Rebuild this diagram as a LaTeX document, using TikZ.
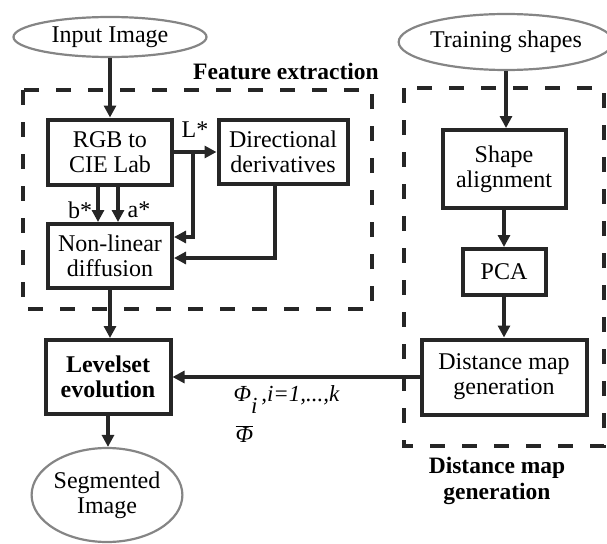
\documentclass[tikz,border=0pt]{standalone}
\usepackage{fontspec}
\setmainfont{Liberation Serif}
\usetikzlibrary{shapes.geometric,arrows.meta}
\definecolor{linec}{HTML}{262626}
\definecolor{ovalc}{HTML}{858585}
\begin{document}
\begin{tikzpicture}[x=1pt,y=-1pt,
 every node/.style={font=\fontsize{24}{25}\selectfont, text=black},
 box/.style={rectangle, draw=linec, line width=4pt, align=center, inner sep=0pt},
 oval/.style={ellipse, draw=ovalc, line width=2.2pt, align=center, inner sep=0pt},
 arr/.style={draw=linec, line width=3.5pt, -{Triangle[length=12pt,width=12pt]}},
 dbox/.style={draw=linec, line width=4pt, dash pattern=on 15pt off 17pt},
 lab/.style={font=\fontsize{23.5}{26}\selectfont\bfseries, align=center},
 mlab/.style={font=\fontsize{23}{23}\selectfont\itshape, anchor=west}]
\useasboundingbox (0,0) rectangle (607,543);

% dashed groups
\draw[dbox] (23,90) rectangle (372,309);
\draw[dbox] (404,88) rectangle (604,446);

% nodes
\node[oval, minimum width=193pt, minimum height=40pt] (input) at (110,37) {Input Image};
\node[box, minimum width=124pt, minimum height=65pt] (rgb) at (110,152) {RGB to\\CIE Lab};
\node[box, minimum width=129pt, minimum height=64pt] (dir) at (283,152) {Directional\\derivatives};
\node[box, minimum width=124pt, minimum height=64pt] (nl) at (110,256) {Non-linear\\diffusion};
\node[box, minimum width=125pt, minimum height=74pt, font=\fontsize{24}{25}\selectfont\bfseries] (lvl) at (108,377) {Levelset\\evolution};
\node[oval, minimum width=131pt, minimum height=94pt] (seg) at (107,495) {Segmented\\Image};

\node[oval, minimum width=191pt, minimum height=56pt] (train) at (506,42) {Training shapes};
\node[box, minimum width=123pt, minimum height=78pt] (shape) at (504,169) {Shape\\alignment};
\node[box, minimum width=83pt, minimum height=46pt] (pca) at (504,272) {PCA};
\node[box, minimum width=165pt, minimum height=75pt] (dist) at (504,377) {Distance map\\generation};

% labels
\node[lab] (fe) at (286,71) {Feature extraction};
\node[lab] (dm) at (497,481) {Distance map\\generation};
\node (lstar) at (195,130) {L*};
\node (bstar) at (80,210) {b*};
\node (astar) at (139,210) {a*};
\node[mlab] (phi) at (230,400) {Φ\raisebox{-12pt}{i}\,,i=1,...,k};
\node[mlab] (phibar) at (232,434) {$\overline{\hbox{\itshape Φ}}$};

% connectors
\draw[arr] (input.south) -- (input.south |- rgb.north);
\draw[arr] ([xshift=-12pt]rgb.south) -- ([xshift=-12pt]nl.north);
\draw[arr] ([xshift=8pt]rgb.south) -- ([xshift=8pt]nl.north);
\draw[arr] (rgb.east) -- (dir.west);
\coordinate (br) at (193,152);
\draw[arr] (br) |- ([yshift=19pt]nl.east);
\draw[arr] ([xshift=-8pt]dir.south) |- ([yshift=-2pt]nl.east);
\draw[arr] (nl.south) -- (nl.south |- lvl.north);
\draw[arr] (lvl.south) -- (lvl.south |- seg.north);

\draw[arr] (train.south) -- (train.south |- shape.north);
\draw[arr] (shape.south) -- (pca.north);
\draw[arr] (pca.south) -- (dist.north);
\draw[arr] (dist.west) -- (lvl.east);
\end{tikzpicture}
\end{document}
